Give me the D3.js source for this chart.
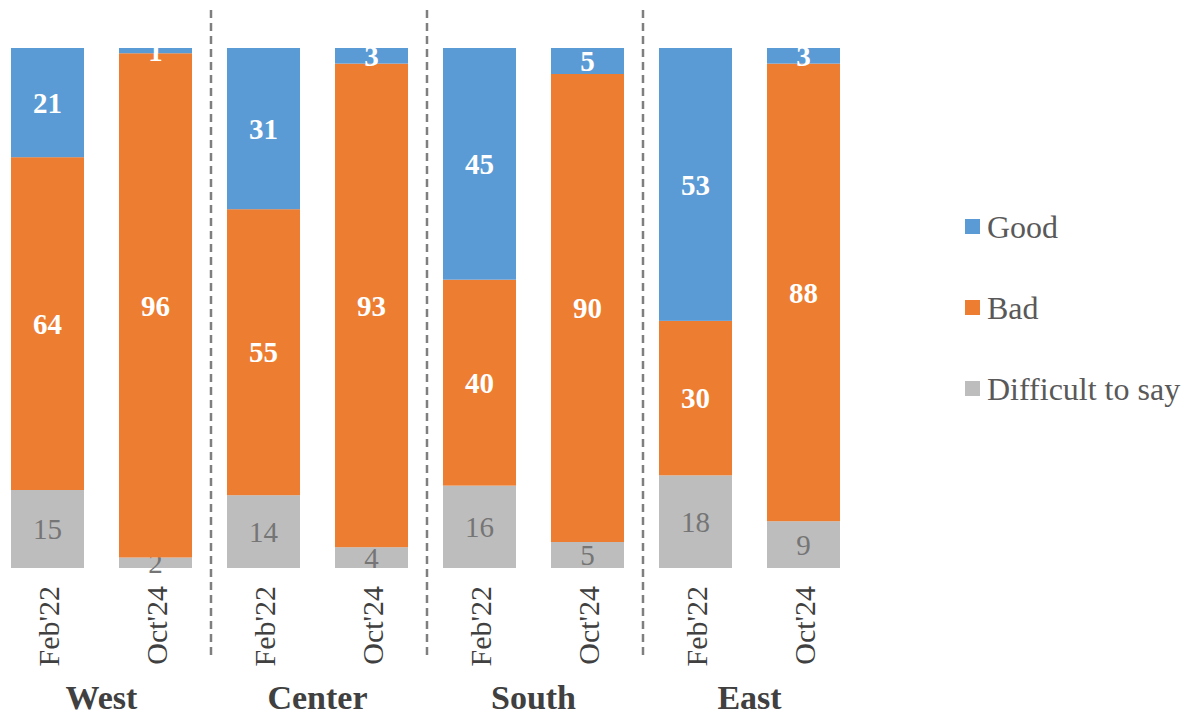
<!DOCTYPE html>
<html>
<head>
<meta charset="utf-8">
<script src="https://cdn.jsdelivr.net/npm/d3@7"></script>
<style>
  body { margin: 0; background: #fff; }
  svg { font-family: "Liberation Serif", "Times New Roman", serif; }
</style>
</head>
<body>
<svg width="1189" height="717"></svg>
<script>
// data
const regions = ['West', 'Center', 'South', 'East'];
const periods = ["Feb'22", "Oct'24"];
const good = [21, 1, 31, 3, 45, 5, 53, 3];
const bad = [64, 96, 55, 93, 40, 90, 30, 88];
const hard = [15, 2, 14, 4, 16, 5, 18, 9];
const seriesNames = ['Good', 'Bad', 'Difficult to say'];
const colors = ['#5b9bd5', '#ed7d31', '#bdbdbd'];

let rows = [];
regions.forEach((r, i) => {
    periods.forEach((p, j) => {
        let k = i * 2 + j;
        rows.push({id: r + p, region: r, period: p, good: good[k], bad: bad[k], hard: hard[k]});
    });
});

const svg = d3.select('svg');

const x = d3.scaleBand()
    .domain(rows.map(d => d.id))
    .range([-6.5, 857.5])
    .paddingInner(0.324)
    .paddingOuter(0.162);

const y = d3.scaleLinear().domain([0, 1]).range([568, 48]);

const stack = d3.stack()
    .keys(['hard', 'bad', 'good'])
    .offset(d3.stackOffsetExpand);
const series = stack(rows);
const colorOf = {good: colors[0], bad: colors[1], hard: colors[2]};

let layers = svg.selectAll('g.layer')
    .data(series)
    .join('g')
    .attr('class', 'layer')
    .attr('fill', s => colorOf[s.key]);

layers.selectAll('rect')
    .data(s => s)
    .join('rect')
    .attr('x', d => x(d.data.id))
    .attr('y', d => y(d[1]))
    .attr('width', x.bandwidth())
    .attr('height', d => y(d[0]) - y(d[1]));

// value labels
layers.each(function(s) {
    d3.select(this).selectAll('text')
        .data(s)
        .join('text')
        .attr('x', d => x(d.data.id) + x.bandwidth() / 2)
        .attr('y', d => (y(d[0]) + y(d[1])) / 2)
        .attr('dy', '0.35em')
        .attr('text-anchor', 'middle')
        .attr('font-size', 29)
        .attr('font-weight', s.key == 'hard' ? 'normal' : 'bold')
        .attr('fill', s.key == 'hard' ? '#757575' : '#fff')
        .text(d => d.data[s.key]);
});

// rotated period labels
svg.append('g').selectAll('text')
    .data(rows)
    .join('text')
    .attr('transform', d => `translate(${x(d.id) + x.bandwidth() / 2 + 11},586) rotate(-90)`)
    .attr('text-anchor', 'end')
    .attr('font-size', 30)
    .attr('fill', '#404040')
    .text(d => d.period);

// region labels
svg.append('g').selectAll('text')
    .data(regions)
    .join('text')
    .attr('x', r => (x(r + periods[0]) + x(r + periods[1]) + x.bandwidth()) / 2)
    .attr('y', 709)
    .attr('text-anchor', 'middle')
    .attr('font-size', 34)
    .attr('font-weight', 'bold')
    .attr('fill', '#404040')
    .text(r => r);

// dashed separators
svg.append('g').selectAll('line')
    .data(regions.slice(1))
    .join('line')
    .attr('x1', r => x(r + periods[0]) - 16)
    .attr('x2', r => x(r + periods[0]) - 16)
    .attr('y1', 10)
    .attr('y2', 660)
    .attr('stroke', '#7f7f7f')
    .attr('stroke-width', 2.5)
    .attr('stroke-dasharray', '8,5');

// legend
const legendY = d3.scalePoint().domain(seriesNames).range([227, 389]);
let legend = svg.append('g').selectAll('g')
    .data(seriesNames)
    .join('g')
    .attr('transform', n => `translate(965,${legendY(n)})`);
legend.append('rect')
    .attr('x', 0).attr('y', -8)
    .attr('width', 15).attr('height', 15)
    .attr('fill', (n, i) => colors[i]);
legend.append('text')
    .attr('x', 22)
    .attr('dy', '0.35em')
    .attr('font-size', 32)
    .attr('fill', '#595959')
    .text(n => n);
</script>
</body>
</html>
